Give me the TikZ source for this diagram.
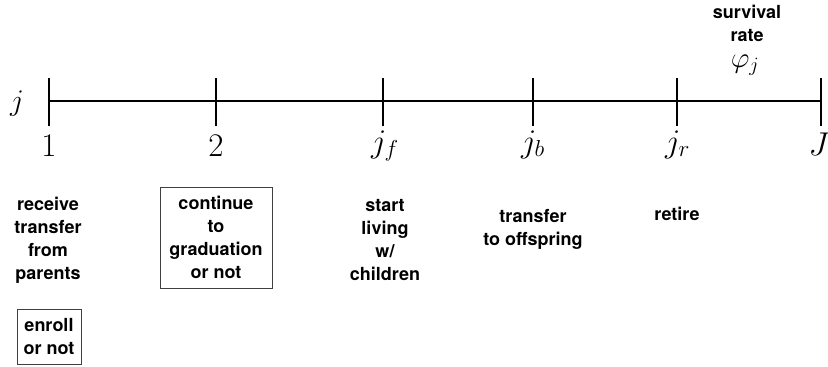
\documentclass[tikz,border=0pt]{standalone}
\usepackage{fix-cm}
\usepackage{fontspec}
\newfontfamily\labfont{TeX Gyre Heros}
\begin{document}
\begin{tikzpicture}[x=1pt,y=-1pt,
  axis/.style={line width=1.7pt,black},
  tickmark/.style={line width=1.5pt,black},
  age/.style={inner sep=0pt,font=\fontsize{33}{36}\selectfont},
  event/.style={inner sep=0pt,align=center,
    font=\labfont\bfseries\fontsize{18}{23}\selectfont},
  choice/.style={event,draw=black!75,line width=0.8pt}]
\useasboundingbox (0,0) rectangle (828,367);

% ticks along the life-cycle axis
\foreach \n/\x in {a1/49,a2/216,af/383,ab/533,ar/677,aJ/821}{
  \coordinate (\n) at (\x,101);
  \coordinate (\n-top) at (\x,78);
  \coordinate (\n-bot) at (\x,126);
  \draw[tickmark] (\n-top) -- (\n-bot);
}
\draw[axis] (a1) -- (aJ);

% age labels
\node[age,font=\fontsize{30}{32}\selectfont,anchor=base] (lj) at (17,110) {$j$};
\node[age,anchor=base] (l1) at (49,156) {$1$};
\node[age,anchor=base] (l2) at (216,156) {$2$};
\node[age,anchor=base west] (lf) at (371,152) {$j_f$};
\node[age,anchor=base west] (lb) at (521,152) {$j_b$};
\node[age,anchor=base west] (lr) at (665,152) {$j_r$};
\node[age,anchor=base] (lJ) at (819,155) {$J$};

% survival rate (base anchor sits on the last line)
\node[event,anchor=base] (surv) at (747,41) {survival\\rate};
\node[age,font=\fontsize{29}{30}\selectfont,anchor=base] (phi) at (745,67) {$\varphi_j$};

% events at each age
\node[event,anchor=base] (recv) at (48,279) {receive\\transfer\\from\\parents};
\node[choice,minimum width=64pt,minimum height=55pt] (enroll) at (49,336.5) {enroll\\or not};
\node[choice,minimum width=112pt,minimum height=101pt] (cont) at (216,237.5) {continue\\to\\graduation\\or not};
\node[event,anchor=base] (live) at (385,280) {start\\living\\w/\\children};
\node[event,anchor=base] (give) at (533,245) {transfer\\to offspring};
\node[event,anchor=base] (ret) at (677,220.5) {retire};
\end{tikzpicture}
\end{document}
